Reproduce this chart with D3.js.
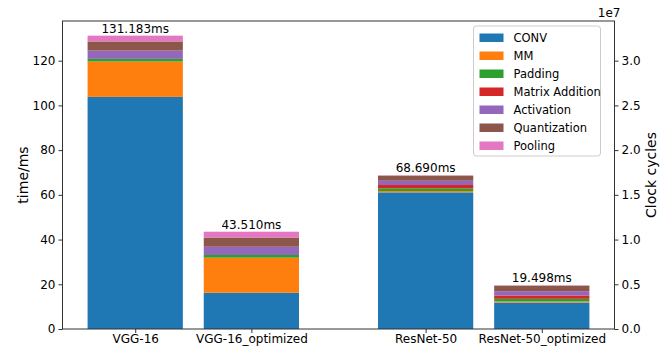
<!DOCTYPE html>
<html>
<head>
<meta charset="utf-8">
<script src="https://cdn.jsdelivr.net/npm/d3@7"></script>
<style>
  html, body { margin: 0; padding: 0; background: #fff; }
  svg { display: block; font-family: "DejaVu Sans", sans-serif; }
</style>
</head>
<body>
<svg id="chart" width="662" height="347"></svg>
<script>
// Models and their positions along the x axis (gap between VGG and ResNet groups)
const models = ["VGG-16", "VGG-16_optimized", "ResNet-50", "ResNet-50_optimized"];
const modelPositions = [0, 1, 2.5, 3.5];

// Operator categories in stacking order (bottom to top)
const operators = ["CONV", "MM", "Padding", "Matrix Addition", "Activation", "Quantization", "Pooling"];
const operatorColors = ["#1f77b4", "#ff7f0e", "#2ca02c", "#d62728", "#9467bd", "#8c564b", "#e377c2"];

// Time per operator in ms, one value per model
const convMs        = [103.8, 16.2, 61.1, 11.8];
const mmMs          = [15.8, 15.7, 0.6, 0.5];
const paddingMs     = [1.2, 1.2, 1.2, 1.2];
const matAddMs      = [0, 0, 1.5, 1.5];
const activationMs  = [3.7, 3.7, 1.9, 1.9];
const quantMs       = [4.1, 4.1, 2.3, 2.5];
const poolingMs     = [2.583, 2.61, 0.09, 0.098];

// Total time labels shown above each bar
const totalLabels = ["131.183ms", "43.510ms", "68.690ms", "19.498ms"];
const totalMs = [131.183, 43.510, 68.690, 19.498];

// Axis ticks
const leftTicks = [0, 20, 40, 60, 80, 100, 120];
const rightTicks = [0, 0.5e7, 1.0e7, 1.5e7, 2.0e7, 2.5e7, 3.0e7];
const cyclesPerMs = 250000;

const series = [convMs, mmMs, paddingMs, matAddMs, activationMs, quantMs, poolingMs];
const rows = models.map((m, i) => {
  const r = { model: m, pos: modelPositions[i] };
  operators.forEach((op, k) => { r[op] = series[k][i]; });
  return r;
});

const svg = d3.select("#chart");
const plot = { left: 62.5, right: 614.5, top: 21, bottom: 329 };

const barWidth = 0.82;
const span = (modelPositions[modelPositions.length - 1] - modelPositions[0]) + barWidth;
const x = d3.scaleLinear()
  .domain([modelPositions[0] - barWidth / 2 - 0.05 * span,
           modelPositions[modelPositions.length - 1] + barWidth / 2 + 0.05 * span])
  .range([plot.left, plot.right]);

const yMax = d3.max(totalMs) * 1.05;
const y = d3.scaleLinear().domain([0, yMax]).range([plot.bottom, plot.top]);
const yRight = d3.scaleLinear().domain([0, yMax * cyclesPerMs]).range([plot.bottom, plot.top]);

const stacked = d3.stack().keys(operators)(rows);
const bw = x(barWidth) - x(0);

// Stacked bars
svg.append("g").selectAll("g")
  .data(stacked)
  .join("g")
  .attr("fill", (d, i) => operatorColors[i])
  .selectAll("rect")
  .data(d => d)
  .join("rect")
  .attr("x", d => x(d.data.pos) - bw / 2)
  .attr("width", bw)
  .attr("y", d => y(d[1]))
  .attr("height", d => Math.max(0, y(d[0]) - y(d[1])));

// Total labels
svg.append("g").selectAll("text")
  .data(rows)
  .join("text")
  .attr("x", d => x(d.pos))
  .attr("y", (d, i) => y(totalMs[i]) - 3)
  .attr("text-anchor", "middle")
  .attr("font-size", 12)
  .attr("fill", "#000")
  .text((d, i) => totalLabels[i]);

// Axes
const axisColor = "#333";
const leftAxis = svg.append("g")
  .attr("transform", `translate(${plot.left},0)`)
  .call(d3.axisLeft(y).tickValues(leftTicks).tickSize(4).tickPadding(3).tickFormat(d3.format("d")));
const rightAxis = svg.append("g")
  .attr("transform", `translate(${plot.right},0)`)
  .call(d3.axisRight(yRight).tickValues(rightTicks).tickSize(4).tickPadding(3)
    .tickFormat(d => (d / 1e7).toFixed(1)));
const bottomAxis = svg.append("g")
  .attr("transform", `translate(0,${plot.bottom})`)
  .call(d3.axisBottom(x).tickValues(modelPositions).tickSize(4).tickPadding(1)
    .tickFormat((d, i) => models[i]));

[leftAxis, rightAxis, bottomAxis].forEach(g => {
  g.select(".domain").remove();
  g.selectAll("line").attr("stroke", axisColor);
  g.selectAll("text").attr("font-size", 12).attr("fill", "#000")
    .attr("font-family", "DejaVu Sans, sans-serif");
});

// Frame
svg.append("rect")
  .attr("x", plot.left).attr("y", plot.top)
  .attr("width", plot.right - plot.left).attr("height", plot.bottom - plot.top)
  .attr("fill", "none").attr("stroke", axisColor).attr("stroke-width", 1);

// Axis titles
svg.append("text")
  .attr("transform", `translate(28,${(plot.top + plot.bottom) / 2}) rotate(-90)`)
  .attr("text-anchor", "middle")
  .attr("font-size", 14)
  .text("time/ms");
svg.append("text")
  .attr("transform", `translate(651,${(plot.top + plot.bottom) / 2}) rotate(-90)`)
  .attr("text-anchor", "middle")
  .attr("dy", "0.35em")
  .attr("font-size", 14)
  .text("Clock cycles");
svg.append("text")
  .attr("x", plot.right + 6).attr("y", 17)
  .attr("text-anchor", "end")
  .attr("font-size", 12)
  .text("1e7");

// Legend
const legend = svg.append("g").attr("transform", "translate(473.5,26)");
legend.append("rect")
  .attr("width", 127).attr("height", 130)
  .attr("rx", 3)
  .attr("fill", "#fff").attr("fill-opacity", 0.8)
  .attr("stroke", "#ccc");
const items = legend.selectAll("g.item")
  .data(operators)
  .join("g")
  .attr("class", "item")
  .attr("transform", (d, i) => `translate(6,${11.5 + i * 18})`);
items.append("rect")
  .attr("x", 0).attr("y", -4)
  .attr("width", 24).attr("height", 8.5)
  .attr("fill", (d, i) => operatorColors[i]);
items.append("text")
  .attr("x", 34).attr("y", 0)
  .attr("dy", "0.35em")
  .attr("font-size", 11.5)
  .text(d => d);
</script>
</body>
</html>
